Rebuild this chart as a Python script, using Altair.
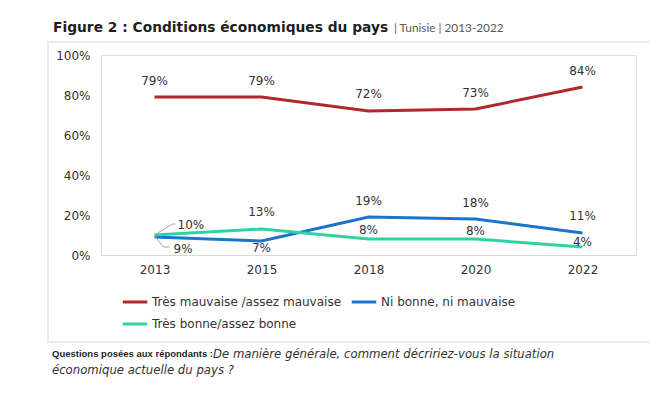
import altair as alt
import pandas as pd

# ---------------- data ----------------
years = ["2013", "2015", "2018", "2020", "2022"]
series_names = ["Très mauvaise /assez mauvaise", "Ni bonne, ni mauvaise", "Très bonne/assez bonne"]
bad = [79, 79, 72, 73, 84]
neutral = [9, 7, 19, 18, 11]
good = [10, 13, 8, 8, 4]
colors = ["#B0272E", "#1C74CC", "#2FD3A1"]
y_ticks = [0, 20, 40, 60, 80, 100]

title_bold = "Figure 2 : Conditions économiques du pays"
title_rest = "| Tunisie | 2013-2022"
note_bold = "Questions posées aux répondants :"
note_it1 = "De manière générale, comment décririez-vous la situation"
note_it2 = "économique actuelle du pays ?"

# ---------------- layout ----------------
W, H = 535, 200
PX = H / 100.0  # pixels per percentage point
FONT = "DejaVu Sans"

# label vertical offsets in pixels (negative = above the point); None = side label
label_dy = {
    series_names[0]: [-16, -16, -17, -16, -16],
    series_names[1]: [None, 7, -16, -16, -17],
    series_names[2]: [None, -17, -9, -8, -5],
}
# side labels for 2013 (series -> (dy px, dx px))
side = {series_names[2]: (-10, 23), series_names[1]: (12, 19)}

rows, lab_rows, side_rows = [], [], []
for name, vals in zip(series_names, [bad, neutral, good]):
    for yr, v, dy in zip(years, vals, label_dy[name]):
        rows.append({"year": yr, "series": name, "value": v})
        if dy is None:
            sdy, sdx = side[name]
            side_rows.append({"year": yr, "series": name, "value": v,
                              "ly": v - sdy / PX, "label": f"{v}%", "dx": sdx})
        else:
            lab_rows.append({"year": yr, "series": name, "value": v,
                             "ly": v - dy / PX, "label": f"{v}%"})

df = pd.DataFrame(rows)
lab = pd.DataFrame(lab_rows)
sdf = pd.DataFrame(side_rows)

x_scale = alt.Scale(type="point", padding=0.5)
x_axis = alt.Axis(title=None, labelAngle=0, ticks=False, domainColor="#D9D9D9",
                  labelPadding=9, labelFont=FONT, labelFontSize=12,
                  labelColor="#333333", grid=False)
y_scale = alt.Scale(domain=[0, 100])
y_axis = alt.Axis(title=None, values=y_ticks, labelExpr="datum.value + '%'",
                  grid=False, domain=False, ticks=False, labelPadding=11,
                  labelOverlap=False, labelFont=FONT, labelFontSize=12,
                  labelColor="#333333")


def X():
    return alt.X("year:O", sort=years, scale=x_scale, axis=x_axis)


def Y(field):
    return alt.Y(field, scale=y_scale, axis=y_axis)


lines = alt.Chart(df).mark_line(strokeWidth=3).encode(
    x=X(),
    y=Y("value:Q"),
    color=alt.Color("series:N", sort=series_names,
                    scale=alt.Scale(domain=series_names, range=colors),
                    legend=alt.Legend(title=None, orient="none", legendX=20, legendY=233,
                                      direction="horizontal", columns=2,
                                      symbolType="stroke", symbolStrokeWidth=3,
                                      symbolSize=600, labelFont=FONT, labelFontSize=12,
                                      labelColor="#333333", labelOffset=3,
                                      columnPadding=3, rowPadding=2, labelLimit=400)),
)

labels = alt.Chart(lab).mark_text(font=FONT, fontSize=12, color="#333333",
                                  baseline="middle", align="center").encode(
    x=X(), y=Y("ly:Q"), text="label:N")

side_g = alt.Chart(sdf[sdf.series == series_names[2]]).mark_text(
    font=FONT, fontSize=12, color="#333333", baseline="middle", align="left", dx=23).encode(
    x=X(), y=Y("ly:Q"), text="label:N")
side_b = alt.Chart(sdf[sdf.series == series_names[1]]).mark_text(
    font=FONT, fontSize=12, color="#333333", baseline="middle", align="left", dx=19).encode(
    x=X(), y=Y("ly:Q"), text="label:N")

# leader lines
lead_g = pd.DataFrame({"year": [years[0]], "y0": [good[0]], "y1": [good[0] + 5.5]})
lead_b = pd.DataFrame({"year": [years[0]], "y0": [neutral[0]], "y1": [neutral[0] - 5]})
lg1 = alt.Chart(lead_g).mark_rule(color="#A6A6A6", strokeWidth=1, x2Offset=18).encode(
    x=X(), x2="year:O", y=Y("y0:Q"), y2="y1:Q")
lg2 = alt.Chart(lead_g).mark_rule(color="#A6A6A6", strokeWidth=1, xOffset=18, x2Offset=21).encode(
    x=X(), x2="year:O", y=Y("y1:Q"))
lb1 = alt.Chart(lead_b).mark_rule(color="#A6A6A6", strokeWidth=1, xOffset=1, x2Offset=9).encode(
    x=X(), x2="year:O", y=Y("y0:Q"), y2="y1:Q")
lb2 = alt.Chart(lead_b).mark_rule(color="#A6A6A6", strokeWidth=1, xOffset=9, x2Offset=15).encode(
    x=X(), x2="year:O", y=Y("y1:Q"))

# decorative frame and texts (pixel positions relative to plot area)
frame = alt.Chart(pd.DataFrame({"a": [0]})).mark_rect(
    fill=None, stroke="#E6E6E6", strokeWidth=1.5).encode(
    x=alt.value(-53), x2=alt.value(549), y=alt.value(-13), y2=alt.value(287))


def txt(s, x, y, **kw):
    return alt.Chart(pd.DataFrame({"t": [s]})).mark_text(
        align="left", baseline="middle", **kw).encode(
        text="t:N", x=alt.value(x), y=alt.value(y))


t1 = txt(title_bold, -48, -27, font=FONT, fontSize=13.8, fontWeight="bold", color="#1F1F1F")
t2 = txt(title_rest, 293, -27, font="Lato", fontSize=11.8, color="#595959")
n1 = txt(note_bold, -49, 299, font="Liberation Sans", fontSize=9.5, fontWeight="bold", color="#1F1F1F")
n2 = txt(note_it1, 112, 299, font=FONT, fontSize=11.7, fontStyle="italic", color="#333333")
n3 = txt(note_it2, -49, 315, font=FONT, fontSize=11.7, fontStyle="italic", color="#333333")

chart = alt.layer(frame, lines, lg1, lg2, lb1, lb2, labels, side_g, side_b,
                  t1, t2, n1, n2, n3).properties(
    width=W, height=H,
    autosize=alt.AutoSizeParams(type="none"),
    padding={"left": 93, "top": 47, "right": 13, "bottom": 134},
).configure_view(stroke=None).configure(background="white")

chart.save("out.html", embed_options={"renderer": "svg", "actions": False})
